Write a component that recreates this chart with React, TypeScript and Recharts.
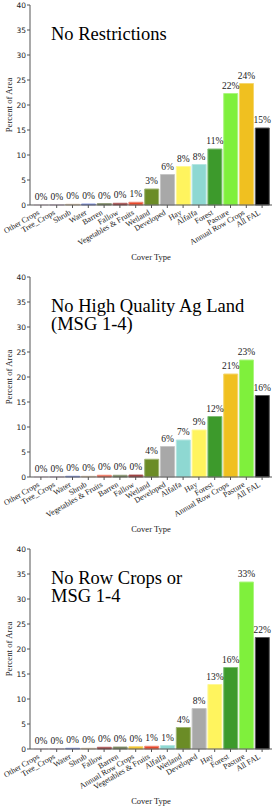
import React from 'react';
import { BarChart, Bar, XAxis, YAxis, Cell, LabelList } from 'recharts';

const SERIF = '"Liberation Serif", "Times New Roman", serif';
const SANS = '"DejaVu Sans", sans-serif';

const P1_CATEGORIES = ['Other Crops', 'Tree_Crops', 'Shrub', 'Water', 'Barren', 'Fallow', 'Vegetables & Fruits', 'Wetland', 'Developed', 'Hay', 'Alfalfa', 'Forest', 'Pasture', 'Annual Row Crops', 'All FAL'];
const P1_VALUES = [0.01, 0.02, 0.15, 0.2, 0.3, 0.35, 0.55, 3.2, 6.1, 7.7, 8.1, 11.2, 22.3, 24.3, 15.4];

const P2_CATEGORIES = ['Other Crops', 'Tree_Crops', 'Water', 'Shrub', 'Vegetables & Fruits', 'Barren', 'Fallow', 'Wetland', 'Developed', 'Alfalfa', 'Hay', 'Forest', 'Annual Row Crops', 'Pasture', 'All FAL'];
const P2_VALUES = [0.01, 0.02, 0.15, 0.15, 0.35, 0.35, 0.4, 3.55, 6.1, 7.4, 9.4, 12.1, 20.6, 23.4, 16.3];

const P3_CATEGORIES = ['Other Crops', 'Tree_Crops', 'Water', 'Shrub', 'Fallow', 'Barren', 'Annual Row Crops', 'Vegetables & Fruits', 'Alfalfa', 'Wetland', 'Developed', 'Hay', 'Forest', 'Pasture', 'All FAL'];
const P3_VALUES = [0.01, 0.02, 0.15, 0.15, 0.35, 0.4, 0.45, 0.55, 0.7, 4.3, 8.1, 12.9, 16.3, 33.4, 22.3];

const Y_TICKS = [0, 5, 10, 15, 20, 25, 30, 35, 40];

const TITLE_1 = ['No Restrictions'];
const TITLE_2 = ['No High Quality Ag Land', '(MSG 1-4)'];
const TITLE_3 = ['No Row Crops or', 'MSG 1-4'];

const COLORS: Record<string, string> = {
  'Other Crops': '#e8d0e0',
  'Tree_Crops': '#d0b0d0',
  'Shrub': '#d2b48c',
  'Water': '#4a64d0',
  'Barren': '#5f6e40',
  'Fallow': '#8b1c1c',
  'Vegetables & Fruits': '#e8482c',
  'Wetland': '#6b8c26',
  'Developed': '#a8a8a8',
  'Hay': '#fff45e',
  'Alfalfa': '#8ed8d2',
  'Forest': '#3d9a2c',
  'Pasture': '#7ff03c',
  'Annual Row Crops': '#f0c020',
  'All FAL': '#000000',
};

const TEXT = '#1a1a1a';

function lighten(hex: string, t: number) {
  const n = parseInt(hex.slice(1), 16);
  const r = (n >> 16) & 255, g = (n >> 8) & 255, b = n & 255;
  const f = (c: number) => Math.round(c + (255 - c) * t);
  return `rgb(${f(r)},${f(g)},${f(b)})`;
}

const XTick = (props: any) => {
  const { x, y, payload } = props;
  return (
    <g transform={`translate(${x},${y})`}>
      <text x={-1} y={4} textAnchor="end" transform="rotate(-30 -1 4)" fontSize={8} fontFamily={SERIF} style={{ fill: TEXT }}>
        {payload.value}
      </text>
    </g>
  );
};

const yLabel = (props: any) => {
  const vb = props.viewBox;
  const cx = vb.x + 9;
  const cy = vb.y + vb.height / 2;
  return (
    <text x={cx} y={cy} transform={`rotate(-90 ${cx} ${cy})`} textAnchor="middle" dominantBaseline="central" fontSize={8.8} fontFamily={SERIF} style={{ fill: TEXT }}>
      Percent of Area
    </text>
  );
};

const xLabel = (props: any) => {
  const vb = props.viewBox;
  return (
    <text x={vb.x + vb.width / 2} y={vb.y + 55} textAnchor="middle" fontSize={8.5} fontFamily={SERIF} style={{ fill: TEXT }}>
      Cover Type
    </text>
  );
};

const valueLabel = (p: any) => {
  const v = Number(p.value);
  return (
    <text x={p.x + p.width / 2} y={p.y - 5} textAnchor="middle" fontSize={9.5} fontFamily={SERIF} style={{ fill: TEXT }}>
      {`${Math.round(v)}%`}
    </text>
  );
};

function Panel({ title, cats, vals, height, top }: { title: string[]; cats: string[]; vals: number[]; height: number; top: number }) {
  const data = cats.map((name, i) => ({ name, value: vals[i] }));
  const XH = 40;
  const bottom = height - top - 200 - XH;
  return (
    <div style={{ position: 'relative', width: 275, height }}>
      <BarChart width={275} height={height} data={data} margin={{ top, right: 3, left: 0, bottom }} barCategoryGap="7%">
        <XAxis dataKey="name" interval={0} tick={XTick} tickSize={3} height={XH} padding={{ left: 3, right: 2 }} stroke="#555" label={{ content: xLabel }} />
        <XAxis xAxisId="top" orientation="top" dataKey="name" tick={false} tickLine={false} height={0} stroke="#666" />
        <YAxis domain={[0, 40]} ticks={Y_TICKS} width={30} tickSize={3} tickMargin={1} stroke="#555" tick={{ fontSize: 7.5, fontFamily: SANS, fill: '#222' }} label={{ content: yLabel }} />
        <YAxis yAxisId="r" orientation="right" tick={false} tickLine={false} width={0} stroke="#666" />
        <Bar dataKey="value" isAnimationActive={false}>
          {data.map((d) => (
            <Cell key={d.name} fill={COLORS[d.name]} stroke={lighten(COLORS[d.name], 0.35)} strokeWidth={1} />
          ))}
          <LabelList dataKey="value" content={valueLabel} />
        </Bar>
      </BarChart>
      <div style={{ position: 'absolute', left: 51, top: top + 19.5, fontFamily: SERIF, fontSize: 18.5, lineHeight: '18.5px', color: '#000', whiteSpace: 'nowrap' }}>
        {title.map((t) => (
          <div key={t}>{t}</div>
        ))}
      </div>
    </div>
  );
}

export default function App() {
  return (
    <div style={{ position: 'absolute', top: 0, left: 0, width: 275, height: 809, background: '#fff' }}>
      <Panel title={TITLE_1} cats={P1_CATEGORIES} vals={P1_VALUES} height={270} top={5} />
      <Panel title={TITLE_2} cats={P2_CATEGORIES} vals={P2_VALUES} height={270} top={7} />
      <Panel title={TITLE_3} cats={P3_CATEGORIES} vals={P3_VALUES} height={269} top={9} />
    </div>
  );
}
